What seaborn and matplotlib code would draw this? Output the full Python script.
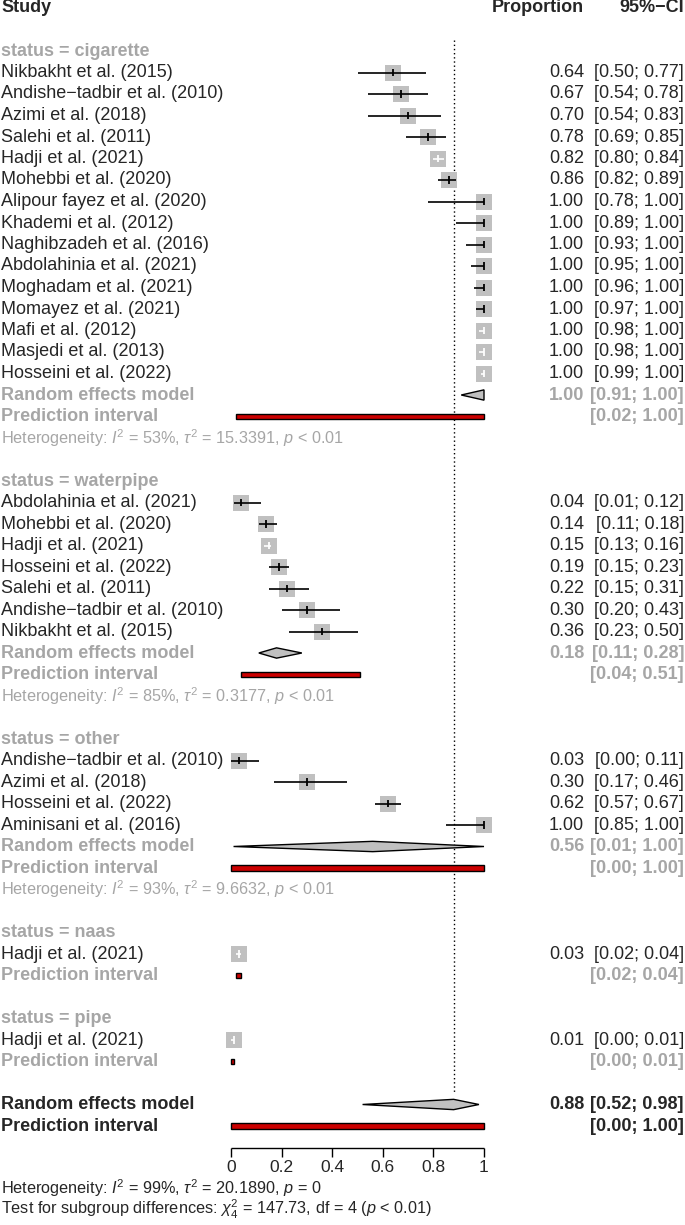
import pandas as pd
import seaborn as sns
import matplotlib.pyplot as plt


"""
1. The data read off the forest plot
"""
cig_study = ['Nikbakht et al. (2015)', 'Andishe\u2212tadbir et al. (2010)',
             'Azimi et al. (2018)', 'Salehi et al. (2011)', 'Hadji et al. (2021)',
             'Mohebbi et al. (2020)', 'Alipour fayez et al. (2020)',
             'Khademi et al. (2012)', 'Naghibzadeh et al. (2016)',
             'Abdolahinia et al. (2021)', 'Moghadam et al. (2021)',
             'Momayez et al. (2021)', 'Mafi et al. (2012)',
             'Masjedi et al. (2013)', 'Hosseini et al. (2022)']
cig_est = [0.64, 0.67, 0.70, 0.78, 0.82, 0.86, 1.00, 1.00, 1.00, 1.00, 1.00, 1.00, 1.00, 1.00, 1.00]
cig_lo = [0.50, 0.54, 0.54, 0.69, 0.80, 0.82, 0.78, 0.89, 0.93, 0.95, 0.96, 0.97, 0.98, 0.98, 0.99]
cig_hi = [0.77, 0.78, 0.83, 0.85, 0.84, 0.89, 1.00, 1.00, 1.00, 1.00, 1.00, 1.00, 1.00, 1.00, 1.00]

wat_study = ['Abdolahinia et al. (2021)', 'Mohebbi et al. (2020)', 'Hadji et al. (2021)',
             'Hosseini et al. (2022)', 'Salehi et al. (2011)',
             'Andishe\u2212tadbir et al. (2010)', 'Nikbakht et al. (2015)']
wat_est = [0.04, 0.14, 0.15, 0.19, 0.22, 0.30, 0.36]
wat_lo = [0.01, 0.11, 0.13, 0.15, 0.15, 0.20, 0.23]
wat_hi = [0.12, 0.18, 0.16, 0.23, 0.31, 0.43, 0.50]

oth_study = ['Andishe\u2212tadbir et al. (2010)', 'Azimi et al. (2018)',
             'Hosseini et al. (2022)', 'Aminisani et al. (2016)']
oth_est = [0.03, 0.30, 0.62, 1.00]
oth_lo = [0.00, 0.17, 0.57, 0.85]
oth_hi = [0.11, 0.46, 0.67, 1.00]

naas_study = ['Hadji et al. (2021)']
naas_est = [0.03]
naas_lo = [0.02]
naas_hi = [0.04]

pipe_study = ['Hadji et al. (2021)']
pipe_est = [0.01]
pipe_lo = [0.00]
pipe_hi = [0.01]

group_names = ['cigarette', 'waterpipe', 'other', 'naas', 'pipe']
# subgroup random effects model (None = single study)
re_est = [1.00, 0.18, 0.56, None, None]
re_lo = [0.91, 0.11, 0.01, None, None]
re_hi = [1.00, 0.28, 1.00, None, None]
# subgroup prediction intervals
pi_lo = [0.02, 0.04, 0.00, 0.02, 0.00]
pi_hi = [1.00, 0.51, 1.00, 0.04, 0.01]
het_i2 = ['53%', '85%', '93%', None, None]
het_tau2 = ['15.3391', '0.3177', '9.6632', None, None]

overall_est, overall_lo, overall_hi = 0.88, 0.52, 0.98
overall_pi = (0.00, 1.00)
x_ticks = [0, 0.2, 0.4, 0.6, 0.8, 1]
x_ticklabels = ['0', '0.2', '0.4', '0.6', '0.8', '1']

groups = [
    (cig_study, cig_est, cig_lo, cig_hi),
    (wat_study, wat_est, wat_lo, wat_hi),
    (oth_study, oth_est, oth_lo, oth_hi),
    (naas_study, naas_est, naas_lo, naas_hi),
    (pipe_study, pipe_est, pipe_lo, pipe_hi),
]


"""
2. Styles and layout
"""
sns.set_style('white')
plt.rcParams['font.family'] = ['Liberation Sans', 'DejaVu Sans']
plt.rcParams['mathtext.fontset'] = 'custom'
plt.rcParams['mathtext.rm'] = 'Liberation Sans'
plt.rcParams['mathtext.it'] = 'Liberation Sans:italic'
plt.rcParams['mathtext.bf'] = 'Liberation Sans:bold'

GREY = '#a6a6a6'
SQUARE = '#c0c0c0'
RED = '#cc0000'
FS = 13
FS_SMALL = 11.7

# pixel layout: x=0 at 231px, x=1 at 484px, one row every 21.5px
X0, X1 = 231, 484
Y0, DY = 8, 21.5
W, H = 685, 1225


def px(p):
    return (p - X0) / (X1 - X0)


LABEL_X = px(1)
EST_X = px(584)
CI_X = px(684)


"""
3. Build the row table
"""
study_rows = []
rows = []  # (row, kind, group index)
r = 2
for g, (names, est, lo, hi) in enumerate(groups):
    rows.append((r, 'group', g))
    r += 1
    for name, e, l, h in zip(names, est, lo, hi):
        study_rows.append(dict(row=r, study=name, est=e, lo=l, hi=h))
        r += 1
    if re_est[g] is not None:
        rows.append((r, 're', g))
        r += 1
    rows.append((r, 'pi', g))
    r += 1
    if het_i2[g] is not None:
        rows.append((r, 'het', g))
        r += 1
    r += 1
overall_row = r
axis_row = r + 2

df = pd.DataFrame(study_rows)
# CI drawn in white when it fits inside the square
df['inside'] = ((df['est'] - df['lo']) < 0.025) & ((df['hi'] - df['est']) < 0.025)
df['line'] = df['inside'].map({True: 'white', False: 'black'})


"""
4. Draw
"""
fig = plt.figure(figsize=(W / 100, H / 100), dpi=100)
ax = fig.add_axes([0, 0, 1, 1])

sns.scatterplot(data=df, x='est', y='row', marker='s', s=145, color=SQUARE,
                linewidth=0, ax=ax, zorder=2, legend=False)
ax.hlines(df['row'], df['lo'], df['hi'], colors=df['line'], linewidth=1.2, zorder=3)
ax.scatter(df['est'], df['row'], marker='|', s=28, c=df['line'], linewidths=1.3, zorder=4)

for _, d in df.iterrows():
    ax.text(LABEL_X, d['row'], d['study'], fontsize=FS, va='center', ha='left')
    ax.text(EST_X, d['row'], f"{d['est']:.2f}", fontsize=FS, va='center', ha='right')
    ax.text(CI_X, d['row'], f"[{d['lo']:.2f}; {d['hi']:.2f}]", fontsize=FS, va='center', ha='right')


def diamond(row, e, l, h, half=0.24):
    ax.fill([l, e, h, e], [row, row - half, row, row + half], facecolor=SQUARE,
            edgecolor='black', linewidth=1.0, zorder=3)


def pred_bar(row, l, h):
    ax.barh(row, h - l, left=l, height=0.24, color=RED, edgecolor='black',
            linewidth=1.0, zorder=3)


for row, kind, g in rows:
    if kind == 'group':
        ax.text(LABEL_X, row, f'status = {group_names[g]}', fontsize=FS,
                fontweight='bold', color=GREY, va='center')
    elif kind == 're':
        diamond(row, re_est[g], re_lo[g], re_hi[g])
        ax.text(LABEL_X, row, 'Random effects model', fontsize=FS, fontweight='bold',
                color=GREY, va='center')
        ax.text(EST_X, row, f'{re_est[g]:.2f}', fontsize=FS, fontweight='bold',
                color=GREY, va='center', ha='right')
        ax.text(CI_X, row, f'[{re_lo[g]:.2f}; {re_hi[g]:.2f}]', fontsize=FS,
                fontweight='bold', color=GREY, va='center', ha='right')
    elif kind == 'pi':
        pred_bar(row, pi_lo[g], pi_hi[g])
        ax.text(LABEL_X, row, 'Prediction interval', fontsize=FS, fontweight='bold',
                color=GREY, va='center')
        ax.text(CI_X, row, f'[{pi_lo[g]:.2f}; {pi_hi[g]:.2f}]', fontsize=FS,
                fontweight='bold', color=GREY, va='center', ha='right')
    elif kind == 'het':
        ax.text(LABEL_X, row,
                rf'Heterogeneity: $I^2$ = {het_i2[g]}, $\tau^2$ = {het_tau2[g]}, $p$ < 0.01',
                fontsize=FS_SMALL, color=GREY, va='center')

# overall model
diamond(overall_row, overall_est, overall_lo, overall_hi)
pred_bar(overall_row + 1, *overall_pi)
ax.text(LABEL_X, overall_row, 'Random effects model', fontsize=FS, fontweight='bold', va='center')
ax.text(LABEL_X, overall_row + 1, 'Prediction interval', fontsize=FS, fontweight='bold', va='center')
ax.text(EST_X, overall_row, f'{overall_est:.2f}', fontsize=FS, fontweight='bold',
        va='center', ha='right')
ax.text(CI_X, overall_row, f'[{overall_lo:.2f}; {overall_hi:.2f}]', fontsize=FS,
        fontweight='bold', va='center', ha='right')
ax.text(CI_X, overall_row + 1, f'[{overall_pi[0]:.2f}; {overall_pi[1]:.2f}]', fontsize=FS,
        fontweight='bold', va='center', ha='right')

# reference line at the overall estimate
ax.vlines(overall_est, 1.5, overall_row - 0.6, colors='black', linestyles=(0, (1, 2)),
          linewidth=1.0, zorder=1)

# header
ax.text(LABEL_X, 0, 'Study', fontsize=FS, fontweight='bold', va='center')
ax.text(EST_X, 0, 'Proportion', fontsize=FS, fontweight='bold', va='center', ha='right')
ax.text(CI_X, 0, '95%\u2212CI', fontsize=FS, fontweight='bold', va='center', ha='right')

# x axis drawn by hand under the forest
ax.hlines(axis_row, x_ticks[0], x_ticks[-1], colors='black', linewidth=1.0)
ax.vlines(x_ticks, axis_row, axis_row + 0.45, colors='black', linewidth=1.0)
for t, lab in zip(x_ticks, x_ticklabels):
    ax.text(t, axis_row + 0.95, lab, fontsize=12.5, ha='center', va='center')

ax.text(LABEL_X, axis_row + 1.88,
        r'Heterogeneity: $I^2$ = 99%, $\tau^2$ = 20.1890, $p$ = 0',
        fontsize=FS_SMALL, va='center')
ax.text(LABEL_X, axis_row + 2.88,
        r'Test for subgroup differences: $\chi^2_4$ = 147.73, df = 4 ($p$ < 0.01)',
        fontsize=FS_SMALL, va='center')

ax.set_xlim(px(0), px(W))
ax.set_ylim((H - Y0) / DY, -Y0 / DY)
ax.axis('off')

plt.savefig('out.png', dpi=100)
